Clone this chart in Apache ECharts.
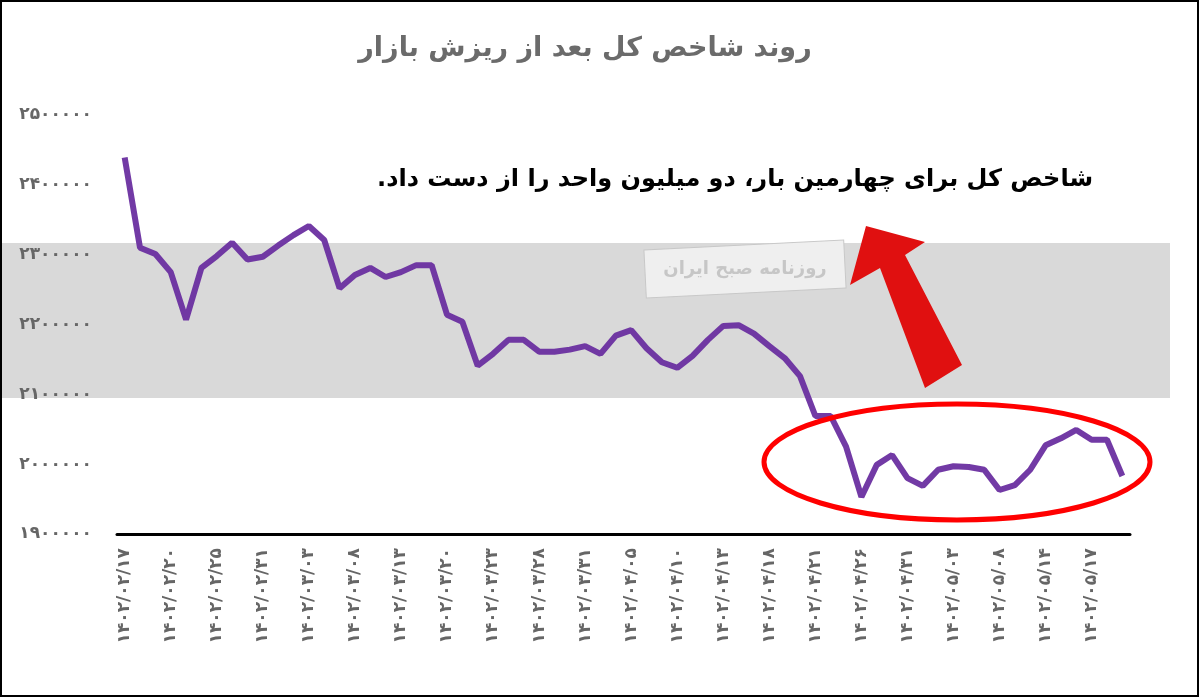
<!DOCTYPE html>
<html><head><meta charset="utf-8">
<script src="https://cdn.jsdelivr.net/npm/echarts@6/dist/echarts.min.js"></script>
<style>html,body{margin:0;padding:0;background:#fff}#c{width:1200px;height:698px}</style>
</head><body><div id="c"></div>
<script>
const tickLabels = ['1402/02/17','1402/02/20','1402/02/25','1402/02/31','1402/03/03','1402/03/08','1402/03/13','1402/03/20','1402/03/23','1402/03/28','1402/03/31','1402/04/05','1402/04/10','1402/04/13','1402/04/18','1402/04/21','1402/04/26','1402/04/31','1402/05/03','1402/05/08','1402/05/14','1402/05/17'];
const indexValues = [2439000,2310000,2301000,2275000,2207000,2281000,2298000,2317000,2293000,2297000,2313000,2328000,2341000,2321000,2252000,2271000,2281000,2268000,2275000,2285000,2285000,2214000,2204000,2141000,2158000,2178000,2178000,2161000,2161000,2164000,2169000,2158000,2184000,2192000,2166000,2146000,2138000,2155000,2178000,2198000,2199000,2187000,2169000,2152000,2126000,2069000,2069000,2025000,1953000,1999000,2013000,1980000,1969000,1992000,1997000,1996000,1992000,1963000,1970000,1992000,2027000,2037000,2049000,2035000,2035000,1983000];
const categories = indexValues.map((v,i)=>String(i));
const fa = s => String(s).replace(/\d/g, d => '۰۱۲۳۴۵۶۷۸۹'[d]);
const faDate = s => s.split('/').map(fa).join('\u200E/\u200E');
const chart = echarts.init(document.getElementById('c'));
chart.setOption({
  animation:false,
  title:{text:'روند شاخص کل بعد از ریزش بازار',left:580,top:30,textAlign:'center',textStyle:{fontFamily:'DejaVu Sans',fontSize:27,fontWeight:'bold',color:'#6b6b6b'}},
  graphic:[
    {type:'rect',z:-10,silent:true,shape:{x:0,y:243,width:1170,height:155},style:{fill:'#d9d9d9'}},
    {type:'rect',z:-9,silent:true,shape:{x:645,y:245,width:200,height:48},rotation:0.05,originX:745,originY:269,style:{fill:'#efefef',stroke:'#c8c8c8'}},
    {type:'text',z:-8,silent:true,style:{x:745,y:269,text:'روزنامه صبح ایران',align:'center',verticalAlign:'middle',font:'bold 18px "DejaVu Sans"',fill:'#c6c6c6'}},
    {type:'text',z:20,style:{x:1093,y:180,text:'\u200Fشاخص کل برای چهارمین بار، دو میلیون واحد را از دست داد.\u200F',align:'right',verticalAlign:'middle',font:'bold 24px "DejaVu Sans"',fill:'#000'}},
    {type:'polygon',z:20,shape:{points:[[866,226],[850,285],[880,268],[925,388],[962,365],[905,255],[925,242]]},style:{fill:'#e01010'}},
    {type:'ellipse',z:20,shape:{cx:957,cy:462,rx:193,ry:58},style:{fill:'none',stroke:'#ff0000',lineWidth:5}},
    {type:'rect',z:30,silent:true,shape:{x:1,y:1,width:1197,height:695},style:{fill:'none',stroke:'#000',lineWidth:2}}
  ],
  grid:{left:117,right:70,top:115,bottom:164},
  xAxis:{type:'category',data:categories,boundaryGap:true,
    axisLine:{lineStyle:{color:'#000',width:3}},
    axisTick:{interval:0,length:7,lineStyle:{color:'#000',width:2}},
    axisLabel:{interval:2,rotate:90,margin:14,color:'#666',fontFamily:'DejaVu Sans',fontWeight:'bold',fontSize:17,
      formatter:(v,i)=>faDate(tickLabels[Math.round(i/3)]||'')}},
  yAxis:{type:'value',min:1900000,max:2500000,interval:100000,
    axisLine:{show:false},axisTick:{show:false},splitLine:{show:false},
    axisLabel:{margin:25,color:'#666',fontFamily:'DejaVu Sans',fontWeight:'bold',fontSize:17,formatter:v=>fa(v)}},
  series:[{type:'line',data:indexValues,showSymbol:false,z:10,lineStyle:{color:'#6a2fa0',width:6,opacity:0.95}}]
});
</script></body></html>
